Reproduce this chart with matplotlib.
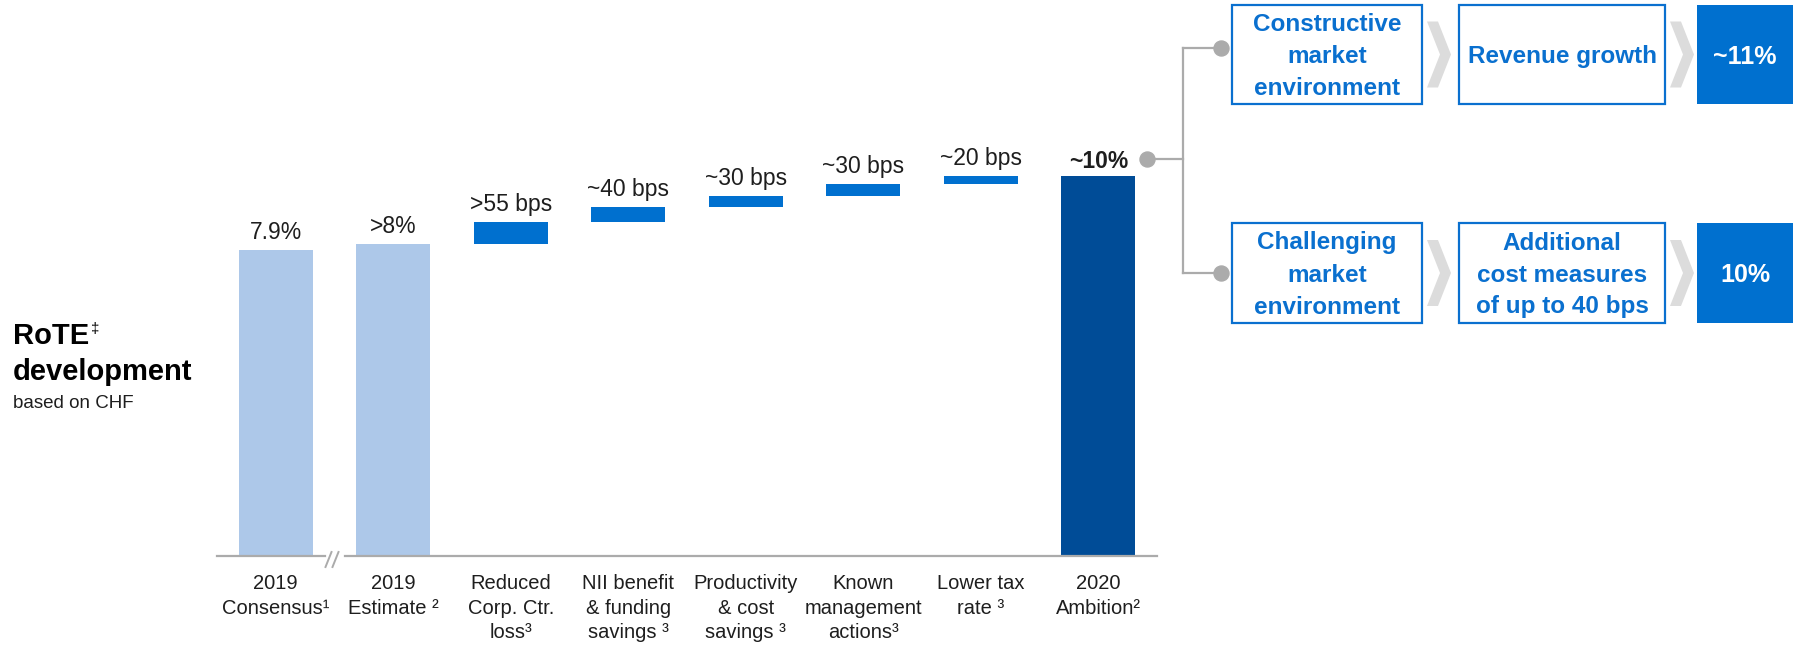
import matplotlib.pyplot as plt
import numpy as np
from matplotlib.patches import Rectangle, Polygon

plt.rcParams["font.family"] = ["Liberation Sans", "DejaVu Sans"]

# data
categories = [
    "2019\nConsensus¹",
    "2019\nEstimate ²",
    "Reduced\nCorp. Ctr.\nloss³",
    "NII benefit\n& funding\nsavings ³",
    "Productivity\n& cost\nsavings ³",
    "Known\nmanagement\nactions³",
    "Lower tax\nrate ³",
    "2020\nAmbition²",
]
consensus = 7.9
estimate = 8.05
steps = [0.57, 0.39, 0.30, 0.30, 0.21]
ambition = 9.82
value_labels = ["7.9%", ">8%", ">55 bps", "~40 bps", "~30 bps", "~30 bps", "~20 bps", "~10%"]

scenarios = ["Constructive\nmarket\nenvironment", "Challenging\nmarket\nenvironment"]
levers = ["Revenue growth", "Additional\ncost measures\nof up to 40 bps"]
outcomes = ["~11%", "10%"]

# colours
LIGHT = "#ADC8E9"
STEP = "#0070CF"
DARK = "#004C97"
BOX_BLUE = "#0A70CF"
GREY = "#ABABAB"
CHEVRON = "#DCDCDC"
TEXT = "#1E1E1E"

W, H = 1805, 648
fig = plt.figure(figsize=(W / 100, H / 100), dpi=100)

# main waterfall axes
px_per_unit = 38.7
ymax = 12
ax = fig.add_axes([217 / W, (H - 556) / H, 940 / W, px_per_unit * ymax / H])
ax.patch.set_visible(False)
ax.set_xlim(-0.5, len(categories) - 0.5)
ax.set_ylim(0, ymax)
for s in ax.spines.values():
    s.set_visible(False)
ax.set_yticks([])

# overlay axes in pixel coordinates for the side diagram and titles
ov = fig.add_axes([0, 0, 1, 1])
ov.set_xlim(0, W)
ov.set_ylim(H, 0)
ov.axis("off")

step_bottoms = estimate + np.concatenate([[0], np.cumsum(steps)[:-1]])
bottoms = [0, 0] + list(step_bottoms) + [0]
heights = [consensus, estimate] + steps + [ambition]
colors = [LIGHT, LIGHT] + [STEP] * len(steps) + [DARK]
x = np.arange(len(categories))
ax.bar(x, heights, bottom=bottoms, width=0.63, color=colors, zorder=2)

for i, lab in enumerate(value_labels):
    top = bottoms[i] + heights[i]
    last = i == len(value_labels) - 1
    ax.annotate(lab, (x[i], top), xytext=(0, 6 if last else 8), textcoords="offset points",
                ha="center", va="baseline", fontsize=16.5, color=TEXT,
                fontweight="bold" if last else "normal")

ax.set_xticks(x, categories, fontsize=14.5, linespacing=1.38, color=TEXT)
ax.tick_params(length=0, pad=13)

# baseline with break between the two 2019 bars
brk = 0.5
gap = 10 / 117.5
ax.plot([-0.5, brk - gap], [0, 0], color=GREY, lw=1.6, clip_on=False, zorder=3)
ax.plot([brk + gap, len(categories) - 0.5], [0, 0], color=GREY, lw=1.6, clip_on=False, zorder=3)
for off in (-6, 1):
    ax.plot([brk + (off - 3) / 117.5, brk + (off + 3) / 117.5],
            [-11 / px_per_unit, 4 / px_per_unit], color=GREY, lw=1.4, clip_on=False, zorder=3)

# left title
ov.text(13, 344, "RoTE", fontsize=21, fontweight="bold", va="baseline", color="black")
ov.text(91, 333, "‡", fontsize=11, va="baseline", color="black")
ov.text(13, 380, "development", fontsize=21, fontweight="bold", va="baseline", color="black")
ov.text(13, 408, "based on CHF", fontsize=13.5, va="baseline", color=TEXT)

# connector
ov.plot([1147, 1183], [159, 159], color=GREY, lw=1.6)
ov.plot([1183, 1183], [48, 273], color=GREY, lw=1.6)
ov.plot([1183, 1221], [48, 48], color=GREY, lw=1.6)
ov.plot([1183, 1221], [273, 273], color=GREY, lw=1.6)
ov.plot([1147, 1221, 1221], [159, 48, 273], "o", color=GREY, markersize=10.8, ls="none")

# scenario boxes
rows = [(5, 104), (223, 323)]
cols = [(1232, 1422), (1459, 1665), (1697, 1793)]
chevrons = [1427, 1670]


def chevron(x0, yc):
    t, w, h = 11, 24, 33
    pts = [(x0, yc - h), (x0 + t, yc - h), (x0 + w, yc), (x0 + t, yc + h), (x0, yc + h), (x0 + w - t, yc)]
    ov.add_patch(Polygon(pts, closed=True, facecolor=CHEVRON, edgecolor="none"))


for r, (y0, y1) in enumerate(rows):
    yc = (y0 + y1) / 2
    texts = [scenarios[r], levers[r]]
    for c in range(2):
        x0, x1 = cols[c]
        ov.add_patch(Rectangle((x0, y0), x1 - x0, y1 - y0, facecolor="white", edgecolor=BOX_BLUE, lw=1.6))
        ov.text((x0 + x1) / 2, yc + 2, texts[c], ha="center", va="center", fontsize=17.5,
                fontweight="bold", color=BOX_BLUE, linespacing=1.5)
    x0, x1 = cols[2]
    ov.add_patch(Rectangle((x0, y0), x1 - x0, y1 - y0, facecolor=STEP, edgecolor="none"))
    ov.text((x0 + x1) / 2, yc + 2, outcomes[r], ha="center", va="center", fontsize=18,
            fontweight="bold", color="white")
    for cx in chevrons:
        chevron(cx, yc)

fig.savefig("out.png", dpi=100)
